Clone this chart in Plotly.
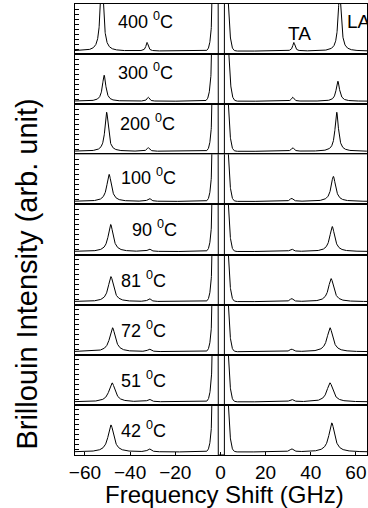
import numpy as np
import plotly.graph_objects as go
from plotly.subplots import make_subplots

# ---- data ----
temps = ["400", "300", "200", "100", "90", "81", "72", "51", "42"]
la_neg_pos = [-52.5, -51.5, -50.4, -49.3, -48.6, -48.5, -47.8, -48.0, -48.5]
la_neg_amp = [1.6, 0.52, 0.78, 0.54, 0.54, 0.50, 0.48, 0.38, 0.54]
la_pos_pos = [52.8, 52.0, 51.5, 50.0, 49.5, 49.0, 48.5, 48.5, 49.3]
la_pos_amp = [1.2, 0.40, 0.78, 0.50, 0.50, 0.46, 0.48, 0.38, 0.58]
la_hwhm = [0.8, 0.9, 0.9, 1.2, 1.3, 1.4, 1.5, 1.6, 1.5]
ta_pos = [32.5, 32.0, 32.0, 31.5, 31.5, 31.5, 31.5, 31.5, 31.5]
ta_amp = [0.17, 0.08, 0.07, 0.06, 0.05, 0.06, 0.05, 0.05, 0.06]
ta_hwhm = [0.6, 0.6, 0.7, 0.8, 0.8, 0.8, 0.9, 0.9, 0.9]
baseline = [0.06, 0.06, 0.06, 0.06, 0.06, 0.06, 0.06, 0.06, 0.06]
rayleigh_amp = [8.0, 8.0, 8.0, 8.0, 8.0, 8.0, 8.0, 8.0, 8.0]
rayleigh_sigma = [1.7, 1.8, 1.7, 1.7, 1.7, 1.7, 1.7, 1.7, 1.7]
notch_lo = -1.3
notch_hi = 1.8
label_x = [-46.3, -46.3, -45.4, -45.0, -40.0, -45.0, -45.0, -45.0, -45.0]
label_y = [0.68, 0.66, 0.64, 0.56, 0.52, 0.50, 0.50, 0.50, 0.50]
x_ticks = [-60, -40, -20, 0, 20, 40, 60]
x_range = [-64.4, 64.9]

n = len(temps)
fig = make_subplots(rows=n, cols=1, shared_xaxes=True, vertical_spacing=0)

freq = np.round(np.arange(-66, 66.001, 0.05), 3)


def lor(f, c, a, g):
    return a * g * g / ((f - c) ** 2 + g * g)


for i in range(n):
    y = np.full_like(freq, baseline[i])
    y += lor(freq, la_neg_pos[i], la_neg_amp[i], la_hwhm[i])
    y += lor(freq, la_pos_pos[i], la_pos_amp[i], la_hwhm[i])
    y += lor(freq, -ta_pos[i], ta_amp[i], ta_hwhm[i])
    y += lor(freq, ta_pos[i], ta_amp[i], ta_hwhm[i])
    y += rayleigh_amp[i] * np.exp(-freq ** 2 / (2 * rayleigh_sigma[i] ** 2))
    inside = (freq > notch_lo) & (freq < notch_hi)
    y[inside] = 0.0
    fig.add_trace(
        go.Scatter(x=freq, y=y, mode="lines",
                   line=dict(color="black", width=1), showlegend=False,
                   hoverinfo="skip"),
        row=i + 1, col=1)
    fig.update_yaxes(range=[0, 1], row=i + 1, col=1)
    fig.add_annotation(
        x=label_x[i], y=label_y[i], xref=f"x{'' if i == 0 else i + 1}",
        yref=f"y{'' if i == 0 else i + 1}",
        text=f"{temps[i]} <sup>0</sup>C", showarrow=False,
        xanchor="left", yanchor="middle",
        font=dict(size=18, color="black", family="Liberation Sans"))

fig.add_annotation(x=35.2, y=0.42, xref="x", yref="y", text="TA",
                   showarrow=False, xanchor="center", yanchor="middle",
                   font=dict(size=19, color="black", family="Liberation Sans"))
fig.add_annotation(x=55.0, y=0.66, xref="x", yref="y", text="LA",
                   showarrow=False, xanchor="left", yanchor="middle",
                   font=dict(size=19, color="black", family="Liberation Sans"))

fig.update_yaxes(showline=True, linecolor="black", linewidth=1.1, mirror=True,
                 ticks="inside", dtick=0.1, tick0=0, ticklen=4, tickwidth=1,
                 tickcolor="black", showticklabels=False, showgrid=False,
                 zeroline=False)
fig.update_xaxes(showline=True, linecolor="black", linewidth=1.1, mirror=True,
                 range=x_range, showgrid=False, zeroline=False,
                 tickvals=x_ticks, ticks="", tickcolor="black")
fig.update_xaxes(row=n, col=1, showticklabels=True,
                 ticks="inside", ticklen=3,
                 tickfont=dict(size=19, color="black", family="Liberation Sans"),
                 ticklabelstandoff=0)

fig.add_annotation(x=0.5, y=0.0, xref="paper", yref="paper",
                   text="Frequency Shift (GHz)", showarrow=False,
                   xanchor="center", yanchor="middle", yshift=-39, xshift=3,
                   font=dict(size=24, color="black", family="Liberation Sans"))
fig.add_annotation(x=0, y=0.40, xref="paper", yref="paper",
                   text="Brillouin Intensity (arb. unit)", showarrow=False,
                   textangle=-90, xanchor="center", yanchor="middle",
                   xshift=-48,
                   font=dict(size=29, color="black", family="Liberation Sans"))

fig.update_layout(width=368, height=508,
                  margin=dict(l=75, r=1, t=4, b=53),
                  paper_bgcolor="white", plot_bgcolor="white")

fig.write_html("out.html")
